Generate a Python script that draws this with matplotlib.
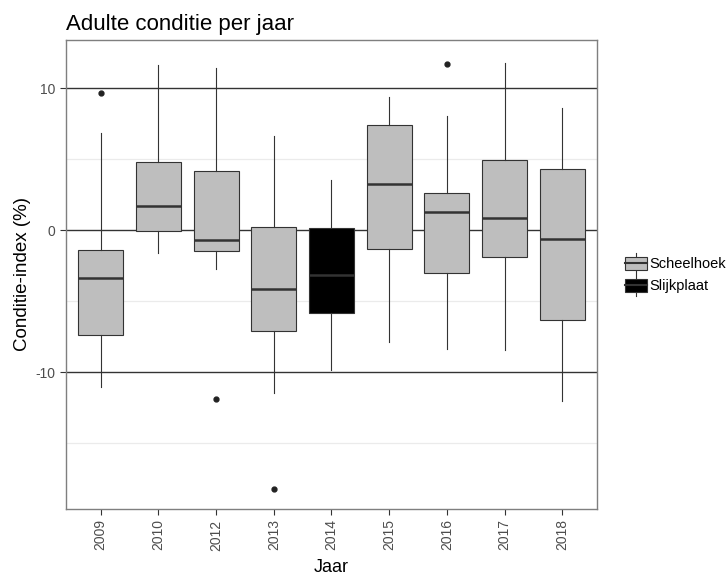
import matplotlib
matplotlib.use('Agg')
import matplotlib.pyplot as plt
from matplotlib.legend_handler import HandlerBase
from matplotlib.patches import Rectangle
from matplotlib.lines import Line2D

plt.rcParams['font.family'] = ['Liberation Sans', 'DejaVu Sans']

# boxplot summary per jaar
years = ['2009', '2010', '2012', '2013', '2014', '2015', '2016', '2017', '2018']
site = ['Scheelhoek', 'Scheelhoek', 'Scheelhoek', 'Scheelhoek', 'Slijkplaat',
        'Scheelhoek', 'Scheelhoek', 'Scheelhoek', 'Scheelhoek']
whislo = [-11.06, -1.6, -2.72, -11.46, -9.86, -7.9, -8.38, -8.47, -12.02]
q1 = [-7.37, -0.07, -1.5, -7.09, -5.87, -1.34, -3.03, -1.9, -6.34]
med = [-3.38, 1.71, -0.68, -4.18, -3.17, 3.22, 1.27, 0.89, -0.59]
q3 = [-1.41, 4.81, 4.2, 0.23, 0.16, 7.42, 2.65, 4.95, 4.3]
whishi = [6.83, 11.64, 11.46, 6.62, 3.5, 9.41, 8.05, 11.8, 8.64]
outliers = [[9.65], [], [-11.92], [-18.24], [], [], [11.69], [], []]

fills = {'Scheelhoek': '#bebebe', 'Slijkplaat': '#000000'}
edge = '#333333'

fig = plt.figure(figsize=(7.26, 5.76), dpi=100)
ax = fig.add_axes([0.0909, 0.1163, 0.7314, 0.8143])

# grid first
for y in [-15, -5, 5]:
    ax.axhline(y, color='#ebebeb', lw=0.9, zorder=0)
for y in [-10, 0, 10]:
    ax.axhline(y, color='#333333', lw=1.0, zorder=0)

stats = []
for i in range(len(years)):
    stats.append({'label': years[i], 'whislo': whislo[i], 'q1': q1[i], 'med': med[i],
                  'q3': q3[i], 'whishi': whishi[i], 'fliers': outliers[i]})

bp = ax.bxp(stats, positions=range(len(years)), widths=0.78, patch_artist=True,
            showcaps=False, manage_ticks=False,
            boxprops=dict(edgecolor=edge, linewidth=0.8),
            medianprops=dict(color=edge, linewidth=1.8),
            whiskerprops=dict(color=edge, linewidth=0.8),
            flierprops=dict(marker='o', markerfacecolor='#222222', markeredgecolor='#222222',
                            markersize=3.5))
for b, s in zip(bp['boxes'], site):
    b.set_facecolor(fills[s])
    b.set_zorder(2)

ax.set_xlim(-0.6, len(years) - 0.4)
ax.set_ylim(-19.65, 13.4)
ax.set_xticks(range(len(years)))
ax.set_xticklabels(years, rotation=90, color='#4d4d4d', fontsize=10)
ax.set_yticks([-10, 0, 10])
ax.set_yticklabels(['-10', '0', '10'], color='#4d4d4d', fontsize=10)
ax.tick_params(length=4, color='#333333', width=0.8)
for sp in ax.spines.values():
    sp.set_color('#7f7f7f')
    sp.set_linewidth(1.0)

ax.set_title('Adulte conditie per jaar', loc='left', fontsize=16, pad=7, x=0.0)
ax.set_xlabel('Jaar', fontsize=13, labelpad=6)
ax.set_ylabel('Conditie-index (%)', fontsize=13.5, labelpad=3)


class BoxKey(HandlerBase):
    def __init__(self, fc):
        super().__init__()
        self.fc = fc

    def create_artists(self, legend, orig_handle, xdescent, ydescent, width, height, fontsize, trans):
        cx = width / 2 - xdescent
        r = Rectangle((-xdescent, -ydescent + height * 0.18), width, height * 0.64,
                      facecolor=self.fc, edgecolor=edge, lw=0.8, transform=trans)
        w = Line2D([cx, cx], [-ydescent, -ydescent + height],
                   color=edge, lw=0.8, transform=trans)
        m = Line2D([-xdescent, width - xdescent], [-ydescent + height / 2] * 2,
                   color=edge, lw=1.5, transform=trans)
        return [w, r, m]


h1 = Rectangle((0, 0), 1, 1)
h2 = Rectangle((0, 0), 1, 1)
fig.legend([h1, h2], ['Scheelhoek', 'Slijkplaat'], loc='upper left',
           bbox_to_anchor=(0.853, 0.571), frameon=False, fontsize=10.5,
           borderaxespad=0, handlelength=1.5, handleheight=1.85, handletextpad=0.15,
           labelspacing=0.05,
           handler_map={h1: BoxKey(fills['Scheelhoek']), h2: BoxKey(fills['Slijkplaat'])})

fig.savefig('out.png', dpi=100)
